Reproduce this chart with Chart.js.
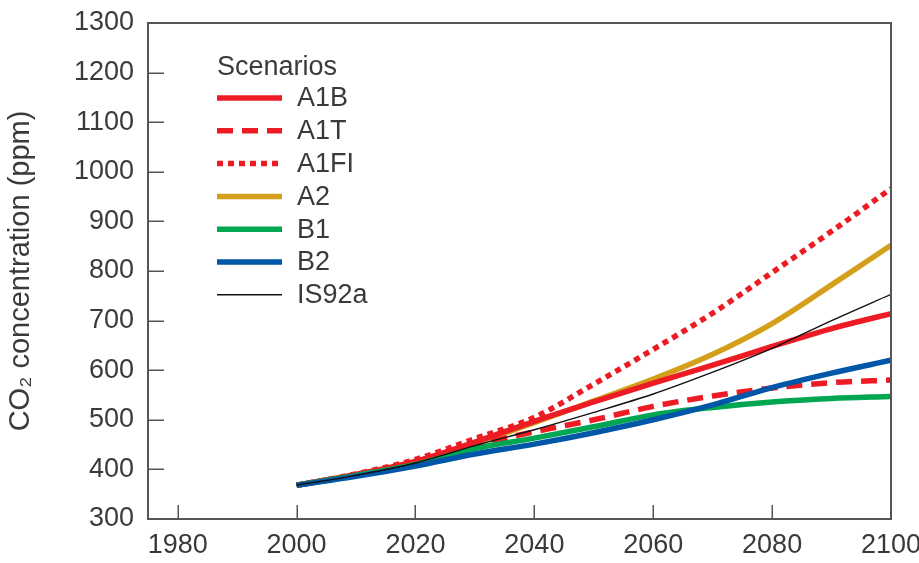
<!DOCTYPE html>
<html>
<head>
<meta charset="utf-8">
<script src="https://cdn.jsdelivr.net/npm/chart.js@4/dist/chart.umd.min.js"></script>
<style>
  html, body { margin: 0; padding: 0; background: #ffffff; }
  #wrap { width: 919px; height: 563px; }
</style>
</head>
<body>
<div id="wrap"><canvas id="c" width="919" height="563"></canvas></div>
<script>
// Projected CO2 concentration (ppm) by emission scenario
const years = [2000, 2010, 2020, 2030, 2040, 2050, 2060, 2070, 2080, 2090, 2100];
const a1b   = [368, 390, 416, 455, 497, 536, 574, 610, 648, 684, 714];
const a1t   = [368, 389, 414, 448, 476, 500, 527, 548, 564, 575, 580];
const a1fi  = [368, 391, 420, 462, 505, 572, 642, 715, 797, 880, 966];
const a2    = [368, 389, 414, 452, 494, 538, 582, 632, 694, 772, 852];
const b1    = [368, 388, 410, 442, 463, 486, 510, 525, 536, 543, 547];
const b2    = [368, 386, 407, 431, 451, 474, 500, 530, 565, 594, 620];
const is92a = [368, 388, 413, 448, 480, 515, 552, 596, 644, 700, 753];

const scenarioNames = ['A1B', 'A1T', 'A1FI', 'A2', 'B1', 'B2', 'IS92a'];
const xTicks = [1980, 2000, 2020, 2040, 2060, 2080, 2100];
const yTicks = [300, 400, 500, 600, 700, 800, 900, 1000, 1100, 1200, 1300];

const FAMILY = "'Liberation Sans', Arial, Helvetica, sans-serif";
const FONT = { family: FAMILY, size: 27 };
const TITLE_FONT = { family: FAMILY, size: 29 };
const TEXT = '#3a3a3a';
const AXIS = '#555555';
const RED = '#ED1C24', GOLD = '#D4A01C', GREEN = '#00A651', BLUE = '#0057A8';

const pts = arr => years.map((yr, i) => ({ x: yr, y: arr[i] }));

function series(label, values, color, width, dash, order) {
  return {
    label, data: pts(values), borderColor: color, backgroundColor: color,
    borderWidth: width, borderDash: dash, pointRadius: 0, fill: false,
    cubicInterpolationMode: 'monotone', order
  };
}

const datasets = [
  series(scenarioNames[0], a1b,   RED,   5.5, [],      4),
  series(scenarioNames[1], a1t,   RED,   5.5, [16, 9], 5),
  series(scenarioNames[2], a1fi,  RED,   5.5, [6, 5],  7),
  series(scenarioNames[3], a2,    GOLD,  5.5, [],      6),
  series(scenarioNames[4], b1,    GREEN, 5.5, [],      3),
  series(scenarioNames[5], b2,    BLUE,  5.5, [],      2),
  series(scenarioNames[6], is92a, '#111111', 1.4, [], 1)
];

// Box around the plot with inward tick marks
const frame = {
  id: 'frame',
  afterDatasetsDraw(chart) {
    const { ctx, chartArea: a, scales: { x, y } } = chart;
    ctx.save();
    ctx.strokeStyle = AXIS;
    ctx.lineWidth = 1.5;
    ctx.beginPath();
    yTicks.forEach(v => {
      const py = Math.round(y.getPixelForValue(v)) + 0.25;
      ctx.moveTo(a.left, py); ctx.lineTo(a.left + 16, py);
    });
    xTicks.forEach(v => {
      const px = Math.round(x.getPixelForValue(v)) + 0.25;
      ctx.moveTo(px, a.bottom); ctx.lineTo(px, a.bottom - 14);
    });
    ctx.stroke();
    ctx.lineWidth = 2;
    ctx.strokeRect(a.left, a.top, a.right - a.left, a.bottom - a.top);
    ctx.restore();
  }
};

// Scenario key inside the plot area
const scenarioKey = {
  id: 'scenarioKey',
  afterDraw(chart) {
    const { ctx, chartArea: a } = chart;
    const x0 = a.left + 69, lineLen = 65, textX = a.left + 149;
    const titleY = a.top + 45, rowY = a.top + 75, rowStep = 32.8;
    ctx.save();
    ctx.font = `${FONT.size}px ${FAMILY}`;
    ctx.fillStyle = TEXT;
    ctx.textBaseline = 'middle';
    ctx.textAlign = 'left';
    ctx.fillText('Scenarios', x0, titleY);
    chart.data.datasets.forEach((ds, i) => {
      const yy = rowY + i * rowStep;
      ctx.beginPath();
      ctx.strokeStyle = ds.borderColor;
      ctx.lineWidth = ds.borderWidth;
      ctx.setLineDash(ds.borderDash || []);
      ctx.moveTo(x0, yy); ctx.lineTo(x0 + lineLen, yy);
      ctx.stroke();
      ctx.setLineDash([]);
      ctx.fillText(ds.label, textX, yy + 1);
    });
    ctx.restore();
  }
};

new Chart(document.getElementById('c'), {
  type: 'line',
  data: { datasets },
  options: {
    responsive: false,
    animation: false,
    layout: { padding: { top: 23, right: 28, left: 0, bottom: 0 } },
    plugins: { legend: { display: false }, tooltip: { enabled: false } },
    scales: {
      x: {
        type: 'linear', min: 1975, max: 2100,
        afterBuildTicks: s => { s.ticks = xTicks.map(v => ({ value: v })); },
        grid: { display: false, drawTicks: false },
        border: { display: false },
        ticks: { font: FONT, color: TEXT, padding: 10, maxRotation: 0, autoSkip: false,
                 callback: v => String(v) },
        afterFit: s => { s.height = 44; s.paddingLeft = 0; s.paddingRight = 0; }
      },
      y: {
        type: 'linear', min: 300, max: 1300,
        afterBuildTicks: s => { s.ticks = yTicks.map(v => ({ value: v })); },
        grid: { display: false, drawTicks: false },
        border: { display: false },
        ticks: { font: FONT, color: TEXT, padding: 14, autoSkip: false,
                 callback: v => String(v) },
        title: { display: true, text: 'CO\u2082 concentration (ppm)', font: TITLE_FONT, color: TEXT,
                 padding: { top: 4, bottom: 0 } },
        afterFit: s => { s.width = 148; s.paddingTop = 0; s.paddingBottom = 0; }
      }
    }
  },
  plugins: [frame, scenarioKey]
});
</script>
</body>
</html>
